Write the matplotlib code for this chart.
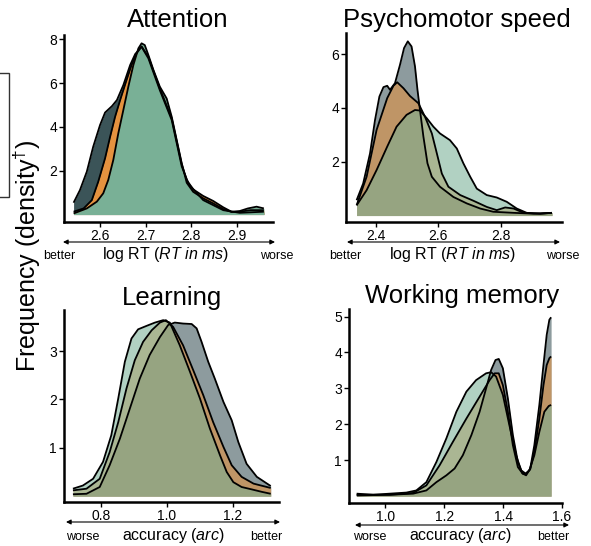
import matplotlib.pyplot as plt
from matplotlib.patches import Rectangle

plt.rcParams['font.family'] = ['Liberation Sans', 'DejaVu Sans']
plt.rcParams['mathtext.fontset'] = 'custom'
plt.rcParams['mathtext.rm'] = 'Liberation Sans'
plt.rcParams['mathtext.it'] = 'Liberation Sans:italic'

SLATE = '#3b5458'
ORANGE = '#e4923f'
GREEN = '#79b096'

# Attention: density of log RT per group
att_x_slate = [2.542, 2.556, 2.571, 2.585, 2.600, 2.611, 2.626, 2.637, 2.651, 2.666, 2.677, 2.691,
               2.706, 2.731, 2.757, 2.779, 2.794, 2.826, 2.870, 2.906, 2.959]
att_d_slate = [0.54, 1.12, 1.96, 3.10, 4.09, 4.66, 4.95, 5.23, 5.91, 6.83, 7.33, 7.66,
               7.13, 5.68, 4.32, 2.20, 1.40, 0.66, 0.20, 0.08, 0.13]
att_x_orange = [2.542, 2.564, 2.582, 2.596, 2.611, 2.622, 2.633, 2.644, 2.658, 2.669, 2.680, 2.691,
                2.706, 2.731, 2.757, 2.779, 2.790, 2.804, 2.826, 2.848, 2.870, 2.888, 2.906, 2.930, 2.959]
att_d_orange = [0.13, 0.28, 0.66, 1.50, 2.57, 3.55, 4.47, 5.23, 6.14, 6.83, 7.36, 7.68,
                7.20, 5.76, 4.40, 2.30, 1.58, 1.15, 0.85, 0.62, 0.33, 0.13, 0.13, 0.20, 0.20]
att_x_green = [2.542, 2.571, 2.593, 2.607, 2.618, 2.629, 2.640, 2.651, 2.662, 2.673, 2.684, 2.691,
               2.698, 2.706, 2.717, 2.731, 2.746, 2.757, 2.768, 2.779, 2.790, 2.804, 2.826, 2.848,
               2.870, 2.888, 2.906, 2.924, 2.943, 2.959]
att_d_green = [0.05, 0.28, 0.59, 0.97, 1.58, 2.49, 3.71, 4.77, 5.84, 6.83, 7.59, 7.82,
               7.74, 7.28, 6.60, 5.84, 5.30, 4.47, 3.40, 2.34, 1.45, 1.04, 0.74, 0.51,
               0.25, 0.12, 0.16, 0.28, 0.36, 0.28]

# Psychomotor speed: density of log RT per group
psy_x_grey = [2.338, 2.359, 2.381, 2.397, 2.411, 2.424, 2.436, 2.445, 2.461, 2.477, 2.490, 2.502,
              2.514, 2.525, 2.533, 2.541, 2.552, 2.565, 2.579, 2.605, 2.648, 2.691, 2.734, 2.776,
              2.841, 2.905, 2.964]
psy_d_grey = [0.57, 1.19, 2.31, 3.55, 4.42, 4.77, 4.82, 4.67, 4.92, 5.60, 6.22, 6.47,
              6.28, 5.54, 4.67, 3.92, 2.93, 1.94, 1.44, 1.07, 0.69, 0.45, 0.26, 0.14,
              0.10, 0.07, 0.10]
psy_x_orange = [2.338, 2.370, 2.402, 2.436, 2.456, 2.468, 2.488, 2.509, 2.536, 2.557, 2.579, 2.595,
                2.611, 2.632, 2.670, 2.712, 2.755, 2.787, 2.814, 2.841, 2.873, 2.926, 2.964]
psy_d_orange = [0.38, 1.44, 3.18, 4.36, 4.82, 4.95, 4.73, 4.44, 4.17, 3.67, 3.05, 2.31,
                1.56, 1.07, 0.76, 0.55, 0.32, 0.20, 0.30, 0.26, 0.10, 0.07, 0.10]
psy_x_green = [2.338, 2.370, 2.402, 2.436, 2.466, 2.498, 2.525, 2.541, 2.563, 2.584, 2.605, 2.637,
               2.659, 2.680, 2.702, 2.723, 2.755, 2.787, 2.819, 2.851, 2.883, 2.926, 2.964]
psy_d_green = [0.38, 0.94, 1.69, 2.56, 3.30, 3.74, 3.92, 3.90, 3.61, 3.30, 3.05, 2.80,
               2.49, 1.94, 1.44, 1.00, 0.76, 0.67, 0.51, 0.26, 0.10, 0.07, 0.10]

# Learning: density of accuracy (arc) per group
lrn_x_grey = [0.716, 0.757, 0.797, 0.827, 0.858, 0.888, 0.918, 0.948, 0.979, 1.004, 1.024, 1.049,
              1.075, 1.090, 1.105, 1.125, 1.145, 1.171, 1.196, 1.216, 1.241, 1.272, 1.314]
lrn_d_grey = [0.04, 0.05, 0.19, 0.64, 1.19, 1.81, 2.43, 2.92, 3.29, 3.54, 3.59, 3.57,
              3.56, 3.47, 3.19, 2.78, 2.43, 1.95, 1.57, 1.12, 0.67, 0.40, 0.21]
lrn_x_orange = [0.716, 0.757, 0.797, 0.827, 0.853, 0.878, 0.903, 0.928, 0.954, 0.979, 0.997, 1.019,
                1.049, 1.080, 1.110, 1.140, 1.171, 1.196, 1.226, 1.262, 1.314]
lrn_d_orange = [0.12, 0.155, 0.36, 0.91, 1.53, 2.23, 2.81, 3.19, 3.43, 3.59, 3.64, 3.50,
                3.12, 2.60, 2.09, 1.53, 1.02, 0.64, 0.40, 0.26, 0.17]
lrn_x_green = [0.716, 0.746, 0.777, 0.807, 0.832, 0.853, 0.873, 0.893, 0.913, 0.938, 0.964, 0.989,
               1.009, 1.039, 1.070, 1.100, 1.130, 1.161, 1.181, 1.201, 1.226, 1.257, 1.287, 1.314]
lrn_d_green = [0.155, 0.22, 0.36, 0.71, 1.26, 2.02, 2.78, 3.26, 3.45, 3.52, 3.59, 3.64,
               3.59, 3.12, 2.57, 2.02, 1.40, 0.84, 0.50, 0.29, 0.19, 0.14, 0.09, 0.05]

# Working memory: density of accuracy (arc) per group
wm_x_grey = [0.902, 1.015, 1.094, 1.139, 1.173, 1.207, 1.235, 1.263, 1.292, 1.320, 1.342, 1.359,
             1.374, 1.385, 1.399, 1.416, 1.433, 1.450, 1.466, 1.478, 1.492, 1.506, 1.523, 1.537,
             1.548, 1.557, 1.563]
wm_d_grey = [0.04, 0.04, 0.07, 0.16, 0.39, 0.58, 0.77, 1.14, 1.70, 2.35, 3.00, 3.51,
             3.79, 3.82, 3.56, 2.72, 1.70, 0.95, 0.63, 0.58, 0.77, 1.42, 2.54, 3.65,
             4.49, 4.91, 4.98]
wm_x_orange = [0.902, 1.015, 1.094, 1.139, 1.184, 1.229, 1.275, 1.320, 1.354, 1.371, 1.385, 1.399,
               1.416, 1.433, 1.450, 1.466, 1.478, 1.492, 1.506, 1.523, 1.537, 1.548, 1.557, 1.563]
wm_d_orange = [0.02, 0.04, 0.09, 0.30, 0.86, 1.51, 2.16, 2.77, 3.23, 3.42, 3.42, 3.09,
               2.35, 1.42, 0.81, 0.63, 0.61, 0.75, 1.23, 2.16, 3.09, 3.65, 3.84, 3.89]
wm_x_green = [0.902, 0.958, 1.015, 1.071, 1.105, 1.139, 1.173, 1.207, 1.241, 1.275, 1.308, 1.342,
              1.359, 1.376, 1.399, 1.421, 1.444, 1.461, 1.476, 1.489, 1.506, 1.523, 1.540, 1.555, 1.563]
wm_d_green = [0.07, 0.04, 0.07, 0.10, 0.16, 0.39, 0.95, 1.61, 2.35, 2.91, 3.23, 3.42,
              3.45, 3.33, 2.82, 1.98, 1.14, 0.72, 0.63, 0.72, 1.14, 1.79, 2.35, 2.51, 2.54]

W, H = 591, 546
fig = plt.figure(figsize=(W / 100, H / 100), dpi=100)


def px_axes(left, top, right, bottom):
    return fig.add_axes([left / W, 1 - bottom / H, (right - left) / W, (bottom - top) / H])


def draw_panel(ax, series, alpha, xlim, ylim, xticks, yticks, xticklabels):
    for x, d, c in series:
        ax.fill_between(x, 0, d, color=c, alpha=alpha, lw=0)
        ax.plot(x, d, color='black', lw=1.3, solid_capstyle='butt')
    ax.set_xlim(xlim)
    ax.set_ylim(ylim)
    ax.set_xticks(xticks)
    ax.set_xticklabels(xticklabels)
    ax.set_yticks(yticks)
    ax.set_yticklabels([str(t) for t in yticks])
    for side in ['top', 'right']:
        ax.spines[side].set_visible(False)
    for side in ['left', 'bottom']:
        ax.spines[side].set_linewidth(1.8)
    ax.tick_params(direction='out', length=3.5, width=1, labelsize=10, pad=1.5)


def under_axis(x0, x1, y, ylab, left_word, right_word, label, lx, rx, cx):
    fig.add_artist(plt.Annotation('', xy=(x1 / W, 1 - y / H), xytext=(x0 / W, 1 - y / H),
                                  xycoords='figure fraction',
                                  arrowprops=dict(arrowstyle='<|-|>', mutation_scale=7,
                                                  lw=0.8, color='black', shrinkA=0, shrinkB=0)))
    fig.text(lx / W, 1 - ylab / H, left_word, fontsize=9, ha='center', va='baseline')
    fig.text(rx / W, 1 - ylab / H, right_word, fontsize=9, ha='center', va='baseline')
    fig.text(cx / W, 1 - ylab / H, label, fontsize=11.5, ha='center', va='baseline')


ax1 = px_axes(64, 35, 273, 222)
draw_panel(ax1, [(att_x_slate, att_d_slate, SLATE), (att_x_orange, att_d_orange, ORANGE),
                 (att_x_green, att_d_green, GREEN)], 1.0,
           (2.521, 2.979), (-0.34, 8.2), [2.6, 2.7, 2.8, 2.9], [2, 4, 6, 8],
           ['2.6', '2.7', '2.8', '2.9'])

ax2 = px_axes(346, 33, 562, 222)
draw_panel(ax2, [(psy_x_grey, psy_d_grey, SLATE), (psy_x_orange, psy_d_orange, ORANGE),
                 (psy_x_green, psy_d_green, GREEN)], 0.58,
           (2.304, 2.996), (-0.24, 6.78), [2.4, 2.6, 2.8], [2, 4, 6],
           ['2.4', '2.6', '2.8'])

ax3 = px_axes(64, 310, 279, 502)
draw_panel(ax3, [(lrn_x_grey, lrn_d_grey, SLATE), (lrn_x_orange, lrn_d_orange, ORANGE),
                 (lrn_x_green, lrn_d_green, GREEN)], 0.58,
           (0.689, 1.339), (-0.12, 3.85), [0.8, 1.0, 1.2], [1, 2, 3],
           ['0.8', '1.0', '1.2'])

ax4 = px_axes(349, 309, 562, 503)
draw_panel(ax4, [(wm_x_grey, wm_d_grey, SLATE), (wm_x_orange, wm_d_orange, ORANGE),
                 (wm_x_green, wm_d_green, GREEN)], 0.58,
           (0.876, 1.6), (-0.19, 5.21), [1.0, 1.2, 1.4, 1.6], [1, 2, 3, 4, 5],
           ['1.0', '1.2', '1.4', '1.6'])

# panel titles
fig.text(178 / W, 1 - 27 / H, 'Attention', fontsize=18.5, ha='center', va='baseline')
fig.text(457 / W, 1 - 27 / H, 'Psychomotor speed', fontsize=18.5, ha='center', va='baseline')
fig.text(172 / W, 1 - 305 / H, 'Learning', fontsize=18.5, ha='center', va='baseline')
fig.text(462 / W, 1 - 303 / H, 'Working memory', fontsize=18.5, ha='center', va='baseline')

fig.text(27 / W, 1 - 256 / H, 'Frequency (density$^{†}$)', fontsize=18,
         rotation=90, ha='center', va='center')

rt_label = r'log RT ($\mathit{RT\ in\ ms}$)'
acc_label = r'accuracy ($\mathit{arc}$)'
under_axis(63, 275, 242, 259, 'better', 'worse', rt_label, 59, 277, 166)
under_axis(347, 560, 242, 259, 'better', 'worse', rt_label, 345, 563, 453)
under_axis(66, 280, 522, 540, 'worse', 'better', acc_label, 83, 266, 173)
under_axis(355, 569, 525, 540, 'worse', 'better', acc_label, 370, 553, 460)

# edge of the group key box sitting at the left margin
fig.add_artist(Rectangle((-0.05, 1 - 197 / H), 0.05 + 9 / W, 124 / H, transform=fig.transFigure,
                         fill=False, lw=1, edgecolor='#333333', clip_on=False))

fig.savefig('out.png', dpi=100)
